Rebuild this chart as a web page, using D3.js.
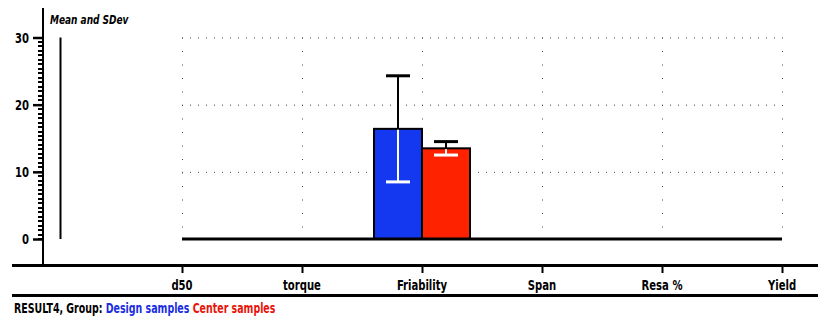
<!DOCTYPE html>
<html>
<head>
<meta charset="utf-8">
<script src="https://cdn.jsdelivr.net/npm/d3@7"></script>
<style>
  html, body { margin: 0; padding: 0; background: #fff; }
  svg { display: block; }
  text { font-family: "DejaVu Sans Condensed", "DejaVu Sans", sans-serif; font-stretch: condensed; font-weight: bold; }
</style>
</head>
<body>
<svg id="chart" width="818" height="320"></svg>
<script>
// Variables on the category axis
const categories = ["d50", "torque", "Friability", "Span", "Resa %", "Yield"];
// Groups drawn side by side at each variable
const groups = ["Design samples", "Center samples"];
const groupColors = ["#1437f0", "#ff2200"];
// Mean and standard deviation per group (only Friability has data)
const designMean = { "Friability": 16.4 };
const designSD   = { "Friability": 7.9 };
const centerMean = { "Friability": 13.5 };
const centerSD   = { "Friability": 1.0 };
// Value axis ticks
const yTicks = [0, 10, 20, 30];
const yMinorStep = 10 / 15;

const svg = d3.select("#chart");
const squeeze = 0.8; // horizontal compression for the narrow lettering

const x = d3.scalePoint().domain(categories).range([182, 782]);
const y = d3.scaleLinear().domain([0, 30]).range([239, 37.5]);
const step = x.step();
const barW = step * 0.4;

// Places a narrow text label at (px, py)
function label(parent, px, py, str, size, anchor, sq) {
  return parent.append("text")
    .attr("transform", `translate(${px},${py}) scale(${sq || squeeze},1)`)
    .attr("text-anchor", anchor || "start")
    .attr("font-size", size)
    .text(str);
}

// Dotted grid
const grid = svg.append("g").attr("stroke", "#444").attr("stroke-width", 1);
grid.selectAll("line.h").data(yTicks.filter(d => d > 0)).join("line").attr("class", "h")
  .attr("x1", x.range()[0]).attr("x2", x.range()[1])
  .attr("y1", d => y(d) + 0.5).attr("y2", d => y(d) + 0.5)
  .attr("stroke-dasharray", "1,7");
grid.selectAll("line.v").data(categories).join("line").attr("class", "v")
  .attr("x1", d => x(d) + 0.5).attr("x2", d => x(d) + 0.5)
  .attr("y1", y(30)).attr("y2", y(0))
  .attr("stroke-dasharray", "1,12.5");

// Y axis: minor ticks as a ladder of small rectangles
const minorVals = d3.range(0, 30.01, yMinorStep);
svg.append("g").selectAll("rect.minor").data(minorVals).join("rect").attr("class", "minor")
  .attr("x", 38).attr("width", 5)
  .attr("y", d => Math.round(y(d)) - 1).attr("height", 2)
  .attr("fill", "#000");

const majorG = svg.append("g").attr("transform", "translate(43,0)")
  .call(d3.axisLeft(y).tickValues(yTicks).tickSize(10).tickFormat(""));
majorG.select(".domain").remove();
majorG.selectAll(".tick line").attr("stroke", "#000").attr("stroke-width", 2.5);

svg.append("line").attr("x1", 43).attr("x2", 43).attr("y1", 8).attr("y2", 266)
  .attr("stroke", "#000").attr("stroke-width", 2);
yTicks.forEach(t => label(svg, 29, y(t) + 5, t, 14, "end"));

// Axis title
label(svg, 50, 24, "Mean and SDev", 12.5).attr("font-style", "italic");

// Reference line on the left of the plot
svg.append("line").attr("x1", 60.5).attr("x2", 60.5)
  .attr("y1", y(30)).attr("y2", y(0))
  .attr("stroke", "#000").attr("stroke-width", 2);

// Bars with error bars
const series = [
  { name: groups[0], mean: designMean, sd: designSD, color: groupColors[0], offset: -1 },
  { name: groups[1], mean: centerMean, sd: centerSD, color: groupColors[1], offset: 0 }
];
series.forEach(s => {
  const cats = categories.filter(c => s.mean[c] !== undefined);
  const g = svg.append("g");
  g.selectAll("rect").data(cats).join("rect")
    .attr("x", c => x(c) + s.offset * barW)
    .attr("y", c => y(s.mean[c]))
    .attr("width", barW)
    .attr("height", c => y(0) - y(s.mean[c]))
    .attr("fill", s.color).attr("stroke", "#000").attr("stroke-width", 2);
  const cx = c => x(c) + s.offset * barW + barW / 2;
  const capW = barW * 0.5;
  // upper whisker (black)
  g.selectAll("line.up").data(cats).join("line").attr("class", "up")
    .attr("x1", cx).attr("x2", cx)
    .attr("y1", c => y(s.mean[c])).attr("y2", c => y(s.mean[c] + s.sd[c]))
    .attr("stroke", "#000").attr("stroke-width", 2);
  g.selectAll("line.upcap").data(cats).join("line").attr("class", "upcap")
    .attr("x1", c => cx(c) - capW / 2).attr("x2", c => cx(c) + capW / 2)
    .attr("y1", c => y(s.mean[c] + s.sd[c])).attr("y2", c => y(s.mean[c] + s.sd[c]))
    .attr("stroke", "#000").attr("stroke-width", 3);
  // lower whisker (white, inside bar)
  g.selectAll("line.dn").data(cats).join("line").attr("class", "dn")
    .attr("x1", cx).attr("x2", cx)
    .attr("y1", c => y(s.mean[c]) + 1).attr("y2", c => y(s.mean[c] - s.sd[c]))
    .attr("stroke", "#fff").attr("stroke-width", 2);
  g.selectAll("line.dncap").data(cats).join("line").attr("class", "dncap")
    .attr("x1", c => cx(c) - capW / 2).attr("x2", c => cx(c) + capW / 2)
    .attr("y1", c => y(s.mean[c] - s.sd[c])).attr("y2", c => y(s.mean[c] - s.sd[c]))
    .attr("stroke", "#fff").attr("stroke-width", 3);
});

// Zero baseline across the categories
svg.append("line").attr("x1", x.range()[0]).attr("x2", x.range()[1])
  .attr("y1", y(0)).attr("y2", y(0))
  .attr("stroke", "#000").attr("stroke-width", 3);

// Category axis band
svg.append("line").attr("x1", 12).attr("x2", 818).attr("y1", 265.5).attr("y2", 265.5)
  .attr("stroke", "#000").attr("stroke-width", 3);
svg.append("line").attr("x1", 12).attr("x2", 818).attr("y1", 295.5).attr("y2", 295.5)
  .attr("stroke", "#000").attr("stroke-width", 3);
const xg = svg.append("g");
xg.selectAll("line.tick").data(categories).join("line").attr("class", "tick")
  .attr("x1", d => x(d) + 0.5).attr("x2", d => x(d) + 0.5)
  .attr("y1", 265).attr("y2", 273)
  .attr("stroke", "#000").attr("stroke-width", 2);
categories.forEach(c => label(xg, x(c), 290, c, 14, "middle"));

// Footer legend
const foot = label(svg, 14, 313, "", 14, "start", 0.75);
foot.append("tspan").attr("fill", "#000").text("RESULT4, Group: ");
foot.append("tspan").attr("fill", "#1a2de0").text(groups[0]);
foot.append("tspan").attr("fill", "#e8140a").text(" " + groups[1]);
</script>
</body>
</html>
